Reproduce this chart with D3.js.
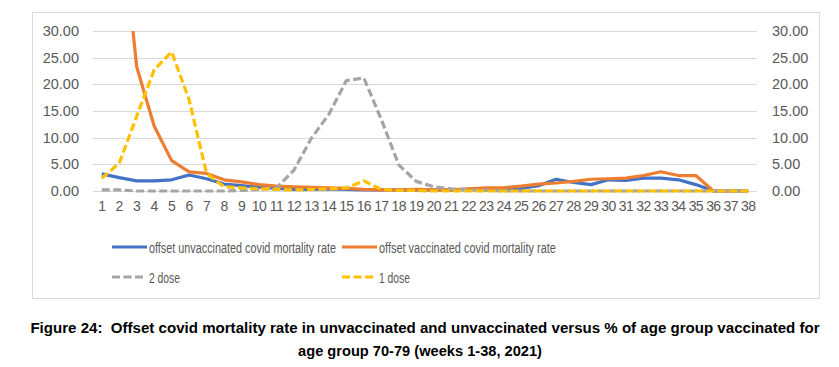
<!DOCTYPE html>
<html><head><meta charset="utf-8">
<script src="https://cdn.jsdelivr.net/npm/d3@7"></script>
<style>body{margin:0;background:#fff;} svg{display:block;}</style>
</head><body>
<svg id="c" width="839" height="367"></svg>
<script>
const weeks = d3.range(1, 39).map(String);
const unvaccinated = [3.2,2.5,1.9,1.9,2.1,3.0,2.3,1.3,1.0,0.7,0.5,0.3,0.3,0.4,0.3,0.2,0.2,0.2,0.2,0.2,0.2,0.3,0.4,0.4,0.5,1.0,2.2,1.6,1.2,2.1,2.0,2.4,2.4,2.1,1.2,0,0,0];
const vaccinated = [80,55,23.3,12.2,5.7,3.6,3.3,2.1,1.7,1.2,0.9,0.8,0.7,0.6,0.5,0.3,0.2,0.2,0.3,0.2,0.2,0.4,0.6,0.6,0.9,1.3,1.5,1.8,2.2,2.3,2.4,2.9,3.6,2.9,2.9,0,0,0];
const dose2 = [0.2,0.2,0.0,0.0,0.0,0.0,0.0,0.0,0.1,0.3,0.6,3.9,9.9,14.4,20.7,21.2,13.4,4.9,1.8,0.8,0.4,0.2,0.1,0,0,0,0,0,0,0,0,0,0,0,0,0,0,0];
const dose1 = [2.4,5.2,14.0,22.7,26.1,17.1,3.3,0.8,0.6,0.4,0.3,0.2,0.3,0.4,0.6,1.9,0.3,0.1,0.1,0,0,0,0,0,0,0,0,0,0,0,0,0,0,0,0,0,0,0];
const yTicks = [0,5,10,15,20,25,30];
const seriesNames = ["offset unvaccinated covid mortality rate","offset vaccinated covid mortality rate","2 dose","1 dose"];
const seriesColors = ["#4472C4","#ED7D31","#A5A5A5","#FFC000"];

const svg = d3.select("#c");
const font = "'Liberation Sans', Arial, sans-serif";
svg.append("rect").attr("x",32.5).attr("y",12.5).attr("width",787).attr("height",286)
  .attr("fill","#fff").attr("stroke","#D9D9D9").attr("stroke-width",1);

const x = d3.scaleBand().domain(weeks).range([93,757]);
const y = d3.scaleLinear().domain([0,30]).range([191,31]);
const cx = d => x(d) + x.bandwidth()/2;

// gridlines
svg.append("g").selectAll("line").data(yTicks).join("line")
  .attr("x1",93).attr("x2",757).attr("y1",d=>Math.round(y(d))+0.5).attr("y2",d=>Math.round(y(d))+0.5)
  .attr("stroke","#D9D9D9").attr("stroke-width",1);

// axes
const leftAx = svg.append("g").attr("transform","translate(93,0)")
  .call(d3.axisLeft(y).tickValues(yTicks).tickFormat(d3.format(".2f")).tickSize(0).tickPadding(14));
const rightAx = svg.append("g").attr("transform","translate(757,0)")
  .call(d3.axisRight(y).tickValues(yTicks).tickFormat(d3.format(".2f")).tickSize(0).tickPadding(15));
const bottomAx = svg.append("g").attr("transform","translate(0,191)")
  .call(d3.axisBottom(x).tickSize(0).tickPadding(10));
[leftAx,rightAx,bottomAx].forEach(a=>{
  a.select(".domain").remove();
  a.selectAll("text").attr("fill","#595959").style("font-family",font).style("font-size","14.5px");
});
bottomAx.selectAll("text").style("font-size","14px").style("letter-spacing","-0.6px");

svg.append("clipPath").attr("id","clip").append("rect").attr("x",80).attr("y",31).attr("width",700).attr("height",175);

const line = d3.line().x((d,i)=>cx(weeks[i])).y(d=>y(d));
const data = [unvaccinated, vaccinated, dose2, dose1];
const dashes = [null,null,"8,3.5","8,3.5"];
const g = svg.append("g").attr("clip-path","url(#clip)");
data.forEach((s,k)=>{
  g.append("path").attr("d",line(s)).attr("fill","none")
   .attr("stroke",seriesColors[k]).attr("stroke-width",3.2)
   .attr("stroke-linejoin","round")
   .attr("stroke-dasharray",dashes[k]);
});

// squeeze a text horizontally to a target width (Calibri-like narrowness)
function fit(sel, x0, yb, target, anchor) {
  sel.attr("x",0).attr("y",0).attr("text-anchor",anchor||"start");
  const w = sel.node().getComputedTextLength();
  const s = Math.min(1, target / w);
  sel.attr("transform",`translate(${x0},${yb}) scale(${s},1)`);
}

// legend
const legPos = [[112,247,187],[342,247,177],[112,277,31],[342,277,31]];
seriesNames.forEach((n,k)=>{
  const [lx,ly,tw] = legPos[k];
  svg.append("line").attr("x1",lx).attr("x2",lx+(k<2?35:31)).attr("y1",ly).attr("y2",ly)
    .attr("stroke",seriesColors[k]).attr("stroke-width",3.2).attr("stroke-dasharray",dashes[k]);
  const t = svg.append("text").text(n)
    .attr("fill","#595959").style("font-family",font).style("font-size","15px");
  fit(t, lx+37, ly+5.5, tw);
});

// caption
const cap = ["Figure 24:  Offset covid mortality rate in unvaccinated and unvaccinated versus % of age group vaccinated for",
             "age group 70-79 (weeks 1-38, 2021)"];
const capPos = [[425,333,790],[420,356,244]];
cap.forEach((t,i)=>{
  const tt = svg.append("text").text(t).attr("fill","#000")
    .style("font-family",font).style("font-weight","bold").style("font-size","15.5px").style("white-space","pre");
  fit(tt, capPos[i][0], capPos[i][1], capPos[i][2], "middle");
});
</script>
</body></html>
